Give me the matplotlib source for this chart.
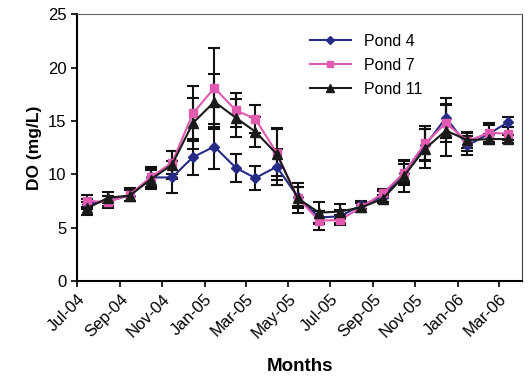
import pandas as pd
import matplotlib.pyplot as plt
import matplotlib.dates as mdates
from matplotlib.lines import Line2D

plt.rcParams['font.family'] = ['Liberation Sans', 'DejaVu Sans']

# monthly sampling, mid-month, Jul-04 .. Mar-06
months = pd.date_range('2004-07-01', periods=21, freq='MS') + pd.Timedelta(days=14)

pond4 = [7.2, 7.5, 8.0, 9.7, 9.7, 11.6, 12.6, 10.6, 9.65, 10.7, 7.9,
         5.95, 6.05, 7.1, 7.9, 10.1, 12.7, 15.3, 12.7, 13.8, 14.9]
pond4_err = [0.5, 0.5, 0.5, 0.9, 1.5, 1.7, 2.1, 1.3, 1.1, 1.7, 0.9,
             0.6, 0.6, 0.4, 0.5, 0.9, 1.5, 1.9, 0.9, 0.8, 0.5]
pond7 = [7.5, 7.4, 8.1, 9.7, 11.1, 15.7, 18.1, 16.0, 15.2, 12.0, 7.8,
         5.65, 5.7, 6.9, 8.2, 10.1, 12.9, 14.8, 13.1, 13.9, 13.8]
pond7_err = [0.6, 0.6, 0.6, 1.0, 1.1, 2.6, 3.7, 1.6, 1.3, 2.2, 1.0,
             0.9, 0.5, 0.4, 0.4, 1.1, 1.6, 1.8, 0.9, 0.9, 0.6]
pond11 = [6.8, 7.8, 8.0, 9.5, 10.9, 14.8, 16.8, 15.3, 14.0, 11.9, 7.75,
          6.4, 6.5, 6.9, 7.7, 9.8, 12.4, 14.1, 13.2, 13.3, 13.3]
pond11_err = [0.6, 0.5, 0.5, 0.9, 1.3, 2.4, 2.6, 1.8, 1.4, 2.4, 1.4,
              1.0, 0.7, 0.4, 0.4, 1.5, 1.8, 2.4, 0.7, 0.5, 0.4]

series = [
    ('Pond 4', pond4, pond4_err, '#262b86', 'D', 5),
    ('Pond 7', pond7, pond7_err, '#e05aaf', 's', 6),
    ('Pond 11', pond11, pond11_err, '#1a1a1a', '^', 6.5),
]

fig = plt.figure(figsize=(5.28, 3.78), dpi=100)
ax = fig.add_axes([0.146, 0.257, 0.843, 0.705])

handles = []
for name, vals, err, col, mk, ms in series:
    ax.errorbar(months, vals, yerr=err, color=col, marker=mk, markersize=ms,
                linewidth=1.5, ecolor='#111111', elinewidth=1.5, capsize=4,
                capthick=1.5, zorder=3)
    handles.append(Line2D([], [], color=col, marker=mk, markersize=ms - 1,
                          linewidth=1.5, label=name))

ax.set_ylim(0, 25)
ax.set_yticks([0, 5, 10, 15, 20, 25])
ax.set_xlim(pd.Timestamp('2004-07-01'), pd.Timestamp('2006-04-04'))
ax.xaxis.set_major_locator(mdates.MonthLocator(bymonth=[1, 3, 5, 7, 9, 11]))
ax.xaxis.set_major_formatter(mdates.DateFormatter('%b-%y'))
plt.setp(ax.get_xticklabels(), rotation=45, ha='right', rotation_mode='anchor')
ax.tick_params(labelsize=12, direction='out', length=4, width=1.2)

ax.spines['left'].set_linewidth(1.5)
ax.spines['bottom'].set_linewidth(1.5)
ax.spines['top'].set_color('#666666')
ax.spines['right'].set_color('#444444')

ax.set_ylabel('DO (mg/L)', fontsize=12.5, fontweight='bold')
ax.set_xlabel('Months', fontsize=13.5, fontweight='bold', labelpad=12)

ax.legend(handles=handles, loc='upper left', bbox_to_anchor=(0.49, 0.98),
          frameon=False, fontsize=11.5, handlelength=2.6, labelspacing=0.55)

plt.savefig('out.png', dpi=100)
